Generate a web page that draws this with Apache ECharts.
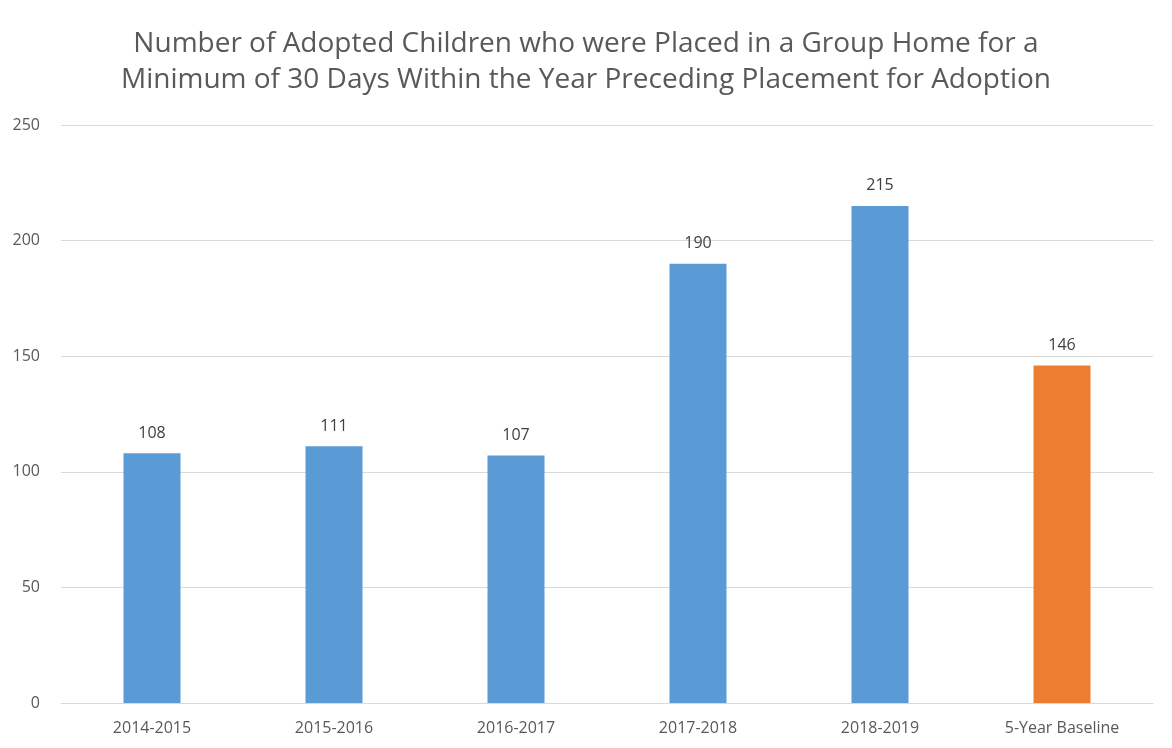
<!DOCTYPE html>
<html>
<head>
<meta charset="utf-8">
<script src="https://cdn.jsdelivr.net/npm/echarts@6/dist/echarts.min.js"></script>
<style>
  html, body { margin: 0; padding: 0; background: #fff; }
  #chart { width: 1172px; height: 748px; }
</style>
</head>
<body>
<div id="chart"></div>
<script>
// chart data
var categories = ['2014-2015', '2015-2016', '2016-2017', '2017-2018', '2018-2019', '5-Year Baseline']
var values = [108, 111, 107, 190, 215, 146]
var yTicks = [0, 50, 100, 150, 200, 250]

var chart = echarts.init(document.getElementById('chart'))
var font = '"Open Sans", Calibri, sans-serif'

var option = {
    animation: false,
    title: {
        text: 'Number of Adopted Children who were Placed in a Group Home for a\nMinimum of 30 Days Within the Year Preceding Placement for Adoption',
        left: 'center',
        top: 21,
        textStyle: {
            fontFamily: font,
            fontSize: 28,
            fontWeight: 'normal',
            color: '#595959',
            lineHeight: 36
        }
    },
    grid: { left: 61, right: 19, top: 125, bottom: 45 },
    xAxis: {
        type: 'category',
        data: categories,
        axisLine: { lineStyle: { color: '#D9D9D9', width: 1 } },
        axisTick: { show: false },
        axisLabel: { color: '#595959', fontFamily: font, fontSize: 16, margin: 17 }
    },
    yAxis: {
        type: 'value',
        min: yTicks[0],
        max: yTicks[yTicks.length - 1],
        interval: 50,
        axisLine: { show: false },
        axisTick: { show: false },
        splitLine: { lineStyle: { color: '#D9D9D9', width: 1 } },
        axisLabel: { color: '#595959', fontFamily: font, fontSize: 16, margin: 21 }
    },
    series: [{
        type: 'bar',
        data: values,
        barWidth: 57,
        itemStyle: {
            color: function (p) {
                return p.dataIndex === categories.length - 1 ? '#ED7D31' : '#5B9BD5'
            }
        },
        label: {
            show: true,
            position: 'top',
            distance: 12,
            color: '#404040',
            fontFamily: font,
            fontSize: 16
        }
    }]
}

chart.setOption(option)
</script>
</body>
</html>
